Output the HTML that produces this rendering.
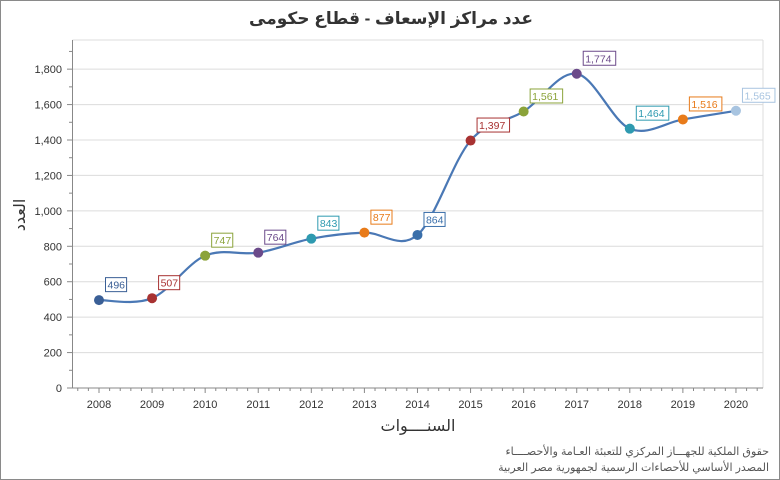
<!DOCTYPE html>
<html><head><meta charset="utf-8"><style>
html,body{margin:0;padding:0;background:#fff}
#c{position:relative;width:780px;height:480px;box-sizing:border-box;border:1px solid #8a8a8a;overflow:hidden}
svg{position:absolute;left:0;top:0}
text{font-family:"Liberation Sans","DejaVu Sans",sans-serif}
</style></head><body><div id="c">
<svg id="s" width="780" height="480" xmlns="http://www.w3.org/2000/svg"></svg>
</div>
<script>
var s=document.getElementById('s'),h='';
var L=71.5,R=762,T=39,B=387;
function Y(v){return B-v*0.17714;}
function X(i){return 98+i*53.08;}
h+='<text x="390" y="23" text-anchor="middle" font-size="17" font-weight="bold" fill="#333" font-family="DejaVu Sans,sans-serif">عدد مراكز الإسعاف - قطاع حكومى</text>';
for(var v=200;v<=1800;v+=200){h+='<line x1="'+L+'" x2="'+R+'" y1="'+Y(v)+'" y2="'+Y(v)+'" stroke="#dcdcdc"/>';}
h+='<line x1="'+L+'" x2="'+R+'" y1="'+T+'" y2="'+T+'" stroke="#dcdcdc"/>';
h+='<line x1="'+R+'" x2="'+R+'" y1="'+T+'" y2="'+B+'" stroke="#dcdcdc"/>';
for(var v=0;v<=1900;v+=100){var y=Y(v);h+='<line x1="'+(v%200?68:66)+'" x2="'+L+'" y1="'+y+'" y2="'+y+'" stroke="#888"/>';
if(v%200==0)h+='<text x="61" y="'+(y+4)+'" text-anchor="end" font-size="11" fill="#333">'+v.toLocaleString('en-US')+'</text>';}
h+='<line x1="'+L+'" x2="'+L+'" y1="'+T+'" y2="'+B+'" stroke="#888"/>';
h+='<line x1="'+L+'" x2="'+R+'" y1="'+B+'" y2="'+B+'" stroke="#888"/>';
for(var k=-2;k<=66;k++){var x=98+k*10.616;if(x<L||x>R)continue;h+='<line x1="'+x+'" x2="'+x+'" y1="'+B+'" y2="'+(B+(k%5?3:5))+'" stroke="#888"/>';}
var d=[496,507,747,764,843,877,864,1397,1561,1774,1464,1516,1565];
var c=['#3a5f96','#a83232','#8ba33a','#6b4a8a','#2e9ab0','#e87b1a','#3a6faa','#a83232','#8ba33a','#6b4a8a','#2e9ab0','#e87b1a','#a8c4e0'];
for(var i=0;i<13;i++)h+='<text x="'+X(i)+'" y="407" text-anchor="middle" font-size="11" fill="#333">'+(2008+i)+'</text>';
var p=d.map(function(v,i){return [X(i),Y(v)]});
var path='M'+p[0][0]+','+p[0][1];
for(var i=0;i<12;i++){var p0=p[Math.max(i-1,0)],p1=p[i],p2=p[i+1],p3=p[Math.min(i+2,12)];var t=0.5/3*2;
path+=' C'+(p1[0]+(p2[0]-p0[0])*t/2)+','+(p1[1]+(p2[1]-p0[1])*t/2)+' '+(p2[0]-(p3[0]-p1[0])*t/2)+','+(p2[1]-(p3[1]-p1[1])*t/2)+' '+p2[0]+','+p2[1];}
h+='<path d="'+path+'" fill="none" stroke="#4a78b5" stroke-width="2.2"/>';
for(var i=0;i<13;i++){var x=p[i][0],y=p[i][1];h+='<circle cx="'+x+'" cy="'+y+'" r="5" fill="'+c[i]+'"/>';
var t=d[i].toLocaleString('en-US'),w=t.length*5.7+4;
h+='<rect x="'+(x+6.5)+'" y="'+(y-22.5)+'" width="'+w+'" height="14" fill="#fff" stroke="'+c[i]+'"/>';
h+='<text x="'+(x+8.5)+'" y="'+(y-11.5)+'" font-size="10.5" fill="'+c[i]+'">'+t+'</text>';}
h+='<text x="417" y="430" text-anchor="middle" font-size="16" fill="#333" font-family="DejaVu Sans,sans-serif">السنــــوات</text>';
h+='<text transform="translate(24,214) rotate(-90)" text-anchor="middle" font-size="16" fill="#333" font-family="DejaVu Sans,sans-serif">العدد</text>';
h+='<text x="768" y="454" text-anchor="end" font-size="11" fill="#555" font-family="DejaVu Sans,sans-serif">حقوق الملكية للجهـــاز المركزي للتعبئة العـامة والأحصــــاء</text>';
h+='<text x="768" y="470" text-anchor="end" font-size="11" fill="#555" font-family="DejaVu Sans,sans-serif">المصدر الأساسي للأحصاءات الرسمية لجمهورية مصر العربية</text>';
s.innerHTML=h;
</script></body></html>
